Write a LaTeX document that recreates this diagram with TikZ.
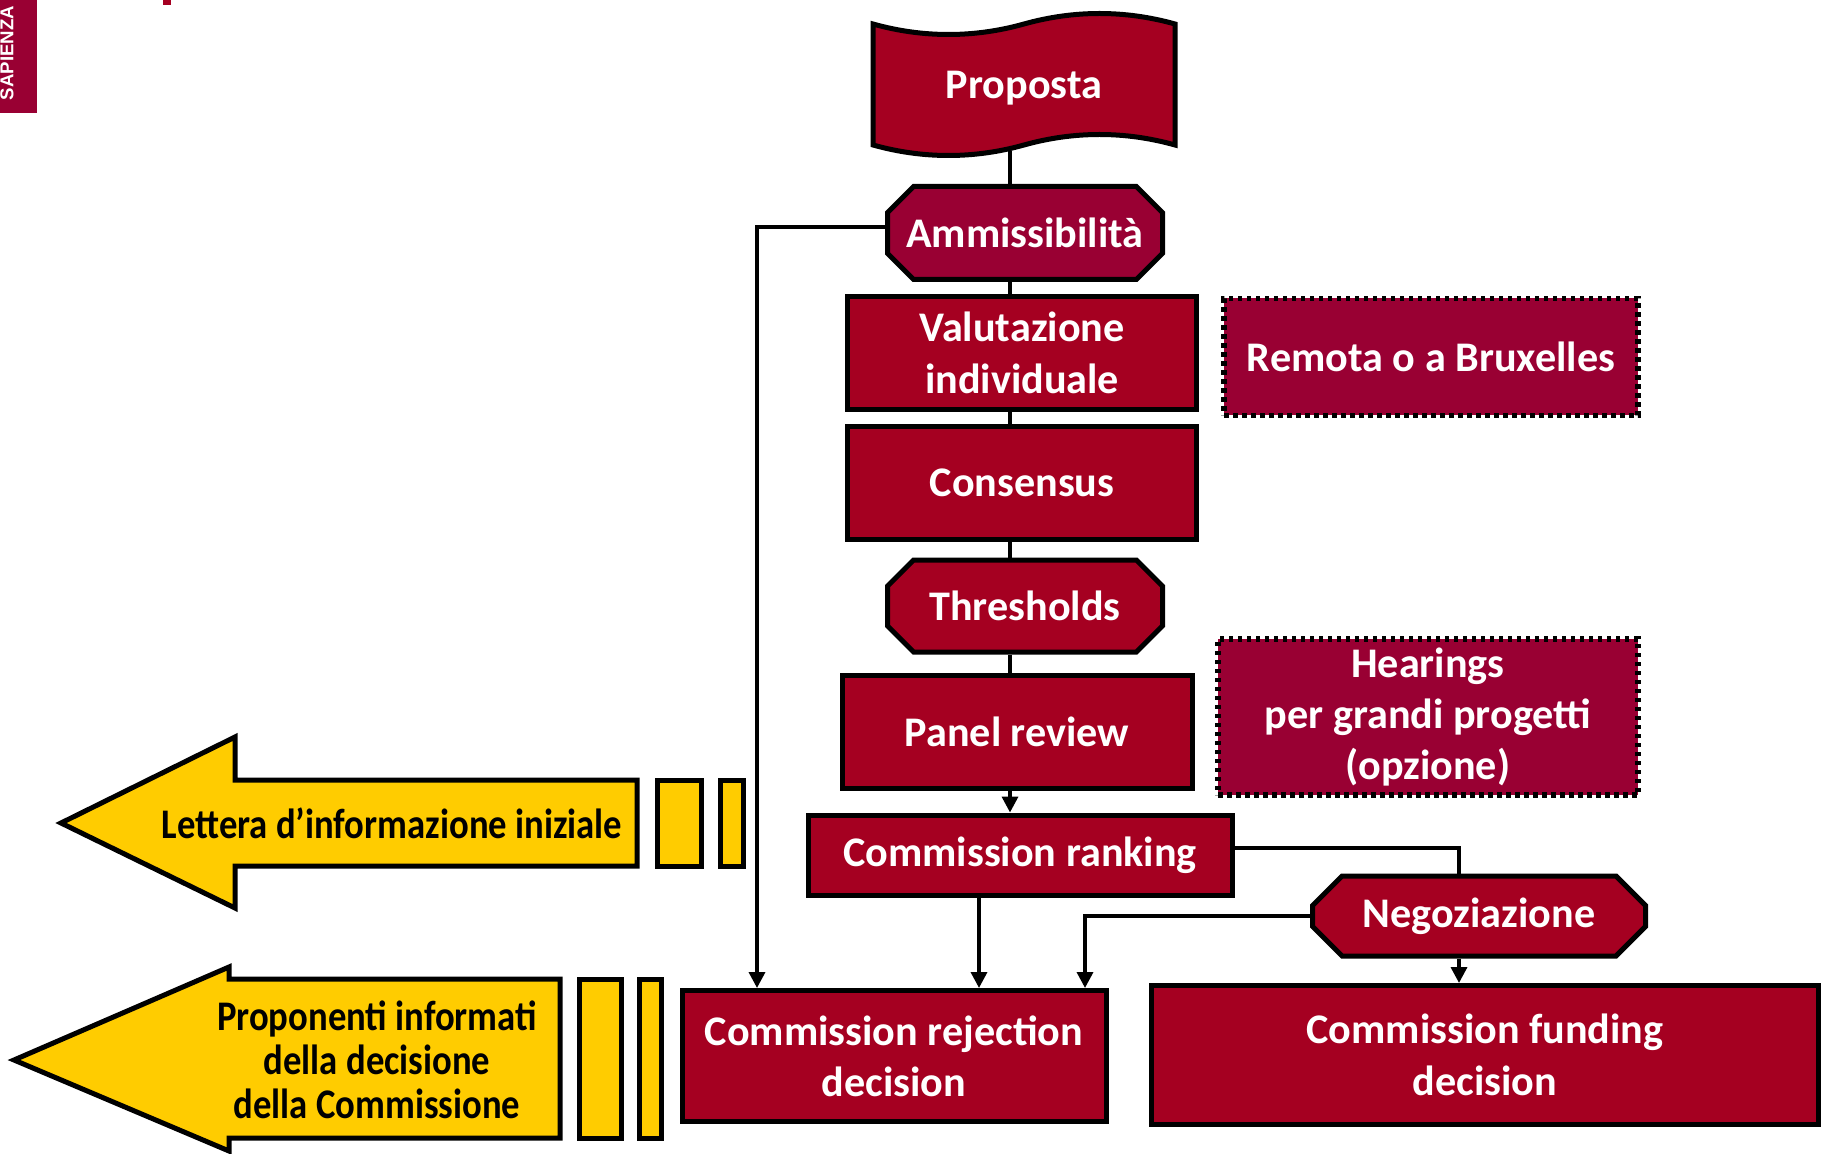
\documentclass[tikz,border=0pt]{standalone}
\usepackage{fontspec}
\setmainfont{Carlito}
\newfontfamily\narrowfont[FakeStretch=0.87]{Carlito}
\newfontfamily\logofont{Liberation Sans}
\usetikzlibrary{calc,positioning,shapes.misc,arrows.meta}
\definecolor{boxred}{HTML}{A50021}
\definecolor{plumred}{HTML}{990033}
\definecolor{notice}{HTML}{FFCC00}
\tikzset{
	box/.style={draw, line width=0.5mm, fill=boxred, text=white, align=center, inner sep=0pt,
		font=\fontsize{12}{14.6}\selectfont\bfseries},
	octo/.style={box, chamfered rectangle, chamfered rectangle xsep=2.3mm},
	optbox/.style={box, fill=plumred, line width=0.55mm, dash pattern=on 0.45mm off 0.45mm},
	link/.style={line width=0.35mm},
	arr/.style={link, -{Triangle[width=4.5pt,length=4.5pt]}},
	bigarrow/.style={draw, line width=0.5mm, fill=notice},
	noticetext/.style={align=center, inner sep=0pt, font=\narrowfont\bfseries\fontsize{12}{12.5}\selectfont},
}
\begin{document}
\begin{tikzpicture}[x=0.1mm, y=-0.1mm]
	\useasboundingbox (0,0) rectangle (1826,1154);
	\fill[plumred] (0,0) rectangle (37,113);
	\node[rotate=90, text=white, inner sep=0pt, font=\logofont\bfseries\fontsize{5.3}{6}\selectfont] at (7,53) (logo) {SAPIENZA};
	\fill[boxred] (163,0) rectangle (171,5);

	\draw[line width=0.5mm, fill=boxred] (873,24) .. controls (923,38) and (974,38) .. (1024,24)
		.. controls (1074,10) and (1125,10) .. (1175,24) -- (1175,145)
		.. controls (1125,131) and (1074,131) .. (1024,145)
		.. controls (974,159) and (923,159) .. (873,145) -- cycle;
	\node[box, draw=none, fill=none, minimum width=30.2mm, minimum height=12.1mm] at (1024,88) (proposta) {Proposta};

	\node[octo, fill=plumred, minimum width=27.5mm, minimum height=9.3mm] at (1025,233) (amm) {Ammissibilità};
	\node[box, minimum width=34.9mm, minimum height=11.3mm] at (1022,353) (val) {Valutazione\\individuale};
	\node[optbox, minimum width=41.4mm, minimum height=11.7mm] at (1431,357) (remota) {Remota o a Bruxelles};
	\node[box, minimum width=34.9mm, minimum height=11.3mm] at (1022,483) (cons) {Consensus};
	\node[octo, minimum width=27.5mm, minimum height=9.2mm] at (1025,606) (thr) {Thresholds};
	\node[box, minimum width=35mm, minimum height=11.3mm] at (1017,732) (panel) {Panel review};
	\node[optbox, minimum width=42mm, minimum height=15.6mm] at (1428,717) (hear) {Hearings\\per grandi progetti\\(opzione)};
	\node[box, minimum width=42.4mm, minimum height=8mm] at (1020,855) (rank) {Commission ranking};
	\node[octo, minimum width=33.3mm, minimum height=8mm] at (1479,916) (neg) {Negoziazione};
	\node[box, minimum width=42.4mm, minimum height=13.1mm] at (894,1056) (rej) {Commission rejection\\decision};
	\node[box, minimum width=66.7mm, minimum height=13.9mm] at (1485,1055) (fund) {Commission funding\\decision};

	\coordinate (spine) at (1010,0);
	\coordinate (leftrun) at (757,0);
	\coordinate (rankx) at (979,0);
	\coordinate (negleft) at (1085,0);
	\coordinate (negx) at (1459,0);
	\foreach \a/\b in {proposta/amm, amm/val, val/cons, cons/thr, thr/panel}{
		\draw[link] (\a.south -| spine) -- (\b.north -| spine);
	}
	\draw[arr] (panel.south -| spine) -- (rank.north -| spine);
	\draw[arr] ([yshift=0.6mm]amm.west) -| (leftrun |- rej.north);
	\draw[arr] (rank.south -| rankx) -- (rej.north -| rankx);
	\draw[link] ([yshift=0.7mm]rank.east) -| (negx |- neg.north);
	\draw[arr] (neg.west) -| (negleft |- rej.north);
	\draw[arr] (neg.south -| negx) -- (fund.north -| negx);

	\draw[bigarrow] (61,823) -- (235,737) -- (235,780) -- (637,780) -- (637,866) -- (235,866) -- (235,908) -- cycle;
	\node[noticetext] at (392,823) (lettera) {Lettera d’informazione iniziale};
	\foreach \l/\r in {657/701, 720/743}{
		\draw[bigarrow] (\l,780) rectangle (\r,866);
	}
	\draw[bigarrow] (14,1060) -- (229,967) -- (229,979) -- (560,979) -- (560,1138) -- (229,1138) -- (229,1151) -- cycle;
	\node[noticetext] at (377,1060) (proponenti) {Proponenti informati\\della decisione\\della Commissione};
	\foreach \l/\r in {579/621, 639/661}{
		\draw[bigarrow] (\l,979) rectangle (\r,1138);
	}
\end{tikzpicture}
\end{document}
